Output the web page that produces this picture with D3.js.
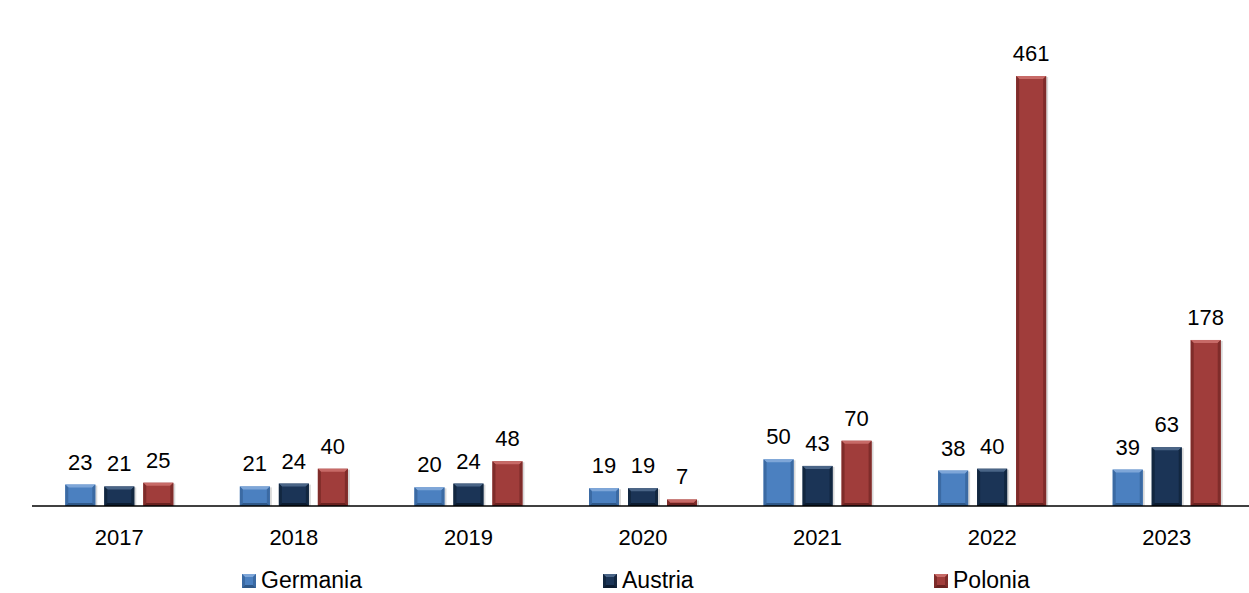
<!DOCTYPE html>
<html>
<head>
<meta charset="utf-8">
<script src="https://cdn.jsdelivr.net/npm/d3@7"></script>
<style>
  html, body { margin: 0; padding: 0; background: #fff; }
  svg { display: block; font-family: "Liberation Sans", Arial, sans-serif; }
</style>
</head>
<body>
<svg id="chart" width="1249" height="593"></svg>
<script>
// Yearly values per country
const years = ["2017", "2018", "2019", "2020", "2021", "2022", "2023"];
const series = ["Germania", "Austria", "Polonia"];
const germania = [23, 21, 20, 19, 50, 38, 39];
const austria = [21, 24, 24, 19, 43, 40, 63];
const polonia = [25, 40, 48, 7, 70, 461, 178];

// Bevelled bar palettes: base face, light top edge, dark side edges
const palette = {
  Germania: { face: "#4b80c0", top: "#7ea6d8", side: "#3b6aa3", bottom: "#2f5888" },
  Austria:  { face: "#1b3456", top: "#4a6587", side: "#122740", bottom: "#0c1c30" },
  Polonia:  { face: "#a03d3b", top: "#c76a67", side: "#7f2c2a", bottom: "#6a2220" }
};

const valuesBySeries = { Germania: germania, Austria: austria, Polonia: polonia };
const rows = years.map((y, i) => ({
  year: y,
  items: series.map(s => ({ series: s, value: valuesBySeries[s][i] }))
}));

const svg = d3.select("#chart");
const baseY = 506;
const fontSize = 22;

const x = d3.scaleBand().domain(years).range([32, 1254]).padding(0);
const xs = d3.scaleBand().domain(series)
  .range([-58.5, 58.5]).paddingInner(9 / 39).paddingOuter(4.5 / 39);
const y = d3.scaleLinear().domain([0, 461]).range([baseY, 76]);

const bevel = 3;

function drawBevelBar(g, x0, y0, w, h, pal) {
  if (h <= 0) return;
  const b = Math.min(bevel, h / 2, w / 2);
  // soft shadow to the right
  g.append("rect").attr("x", x0 + 1).attr("y", y0 + 1).attr("width", w + 1).attr("height", h - 1)
    .attr("fill", "#bfbfbf").attr("opacity", 0.6);
  g.append("rect").attr("x", x0).attr("y", y0).attr("width", w).attr("height", h).attr("fill", pal.face);
  const x1 = x0 + w, y1 = y0 + h;
  g.append("polygon").attr("fill", pal.top)
    .attr("points", [[x0, y0], [x1, y0], [x1 - b, y0 + b], [x0 + b, y0 + b]].join(" "));
  g.append("polygon").attr("fill", pal.side)
    .attr("points", [[x0, y0], [x0 + b, y0 + b], [x0 + b, y1 - b], [x0, y1]].join(" "));
  g.append("polygon").attr("fill", pal.side)
    .attr("points", [[x1, y0], [x1 - b, y0 + b], [x1 - b, y1 - b], [x1, y1]].join(" "));
  g.append("polygon").attr("fill", pal.bottom)
    .attr("points", [[x0, y1], [x0 + b, y1 - b], [x1 - b, y1 - b], [x1, y1]].join(" "));
}

const groups = svg.append("g").selectAll("g.year")
  .data(rows).join("g")
  .attr("class", "year")
  .attr("transform", d => `translate(${x(d.year) + x.bandwidth() / 2},0)`);

groups.each(function (d) {
  const g = d3.select(this);
  d.items.forEach(it => {
    const bx = xs(it.series);
    const top = y(it.value);
    drawBevelBar(g.append("g"), bx, top, xs.bandwidth(), baseY - top, palette[it.series]);
    g.append("text")
      .attr("x", bx + xs.bandwidth() / 2)
      .attr("y", top - 15)
      .attr("text-anchor", "middle")
      .attr("font-size", fontSize)
      .attr("fill", "#000")
      .text(it.value);
  });
});

// Category axis
const axis = d3.axisBottom(x).tickSize(0).tickPadding(0);
const axisG = svg.append("g").attr("transform", `translate(0,${baseY})`).call(axis);
axisG.select(".domain").attr("stroke", "#000").attr("stroke-width", 1.5).attr("d", "M32,0H1249");
axisG.selectAll("text")
  .attr("font-size", fontSize)
  .attr("font-family", "Liberation Sans, Arial, sans-serif")
  .attr("fill", "#000")
  .attr("dy", 0)
  .attr("y", 39);

// Legend
const legendX = { Germania: 242, Austria: 603, Polonia: 934 };
const legend = svg.append("g").selectAll("g").data(series).join("g")
  .attr("transform", s => `translate(${legendX[s]},574)`);
legend.each(function (s) {
  const g = d3.select(this);
  const pal = palette[s];
  g.append("rect").attr("width", 14).attr("height", 14).attr("fill", pal.face);
  g.append("polygon").attr("fill", pal.top).attr("points", "0,0 14,0 11,3 3,3");
  g.append("polygon").attr("fill", pal.side).attr("points", "0,0 3,3 3,11 0,14");
  g.append("polygon").attr("fill", pal.side).attr("points", "14,0 11,3 11,11 14,14");
  g.append("polygon").attr("fill", pal.bottom).attr("points", "0,14 3,11 11,11 14,14");
  g.append("text").attr("x", 19).attr("y", 14).attr("font-size", 23).attr("fill", "#000").text(s);
});
</script>
</body>
</html>
